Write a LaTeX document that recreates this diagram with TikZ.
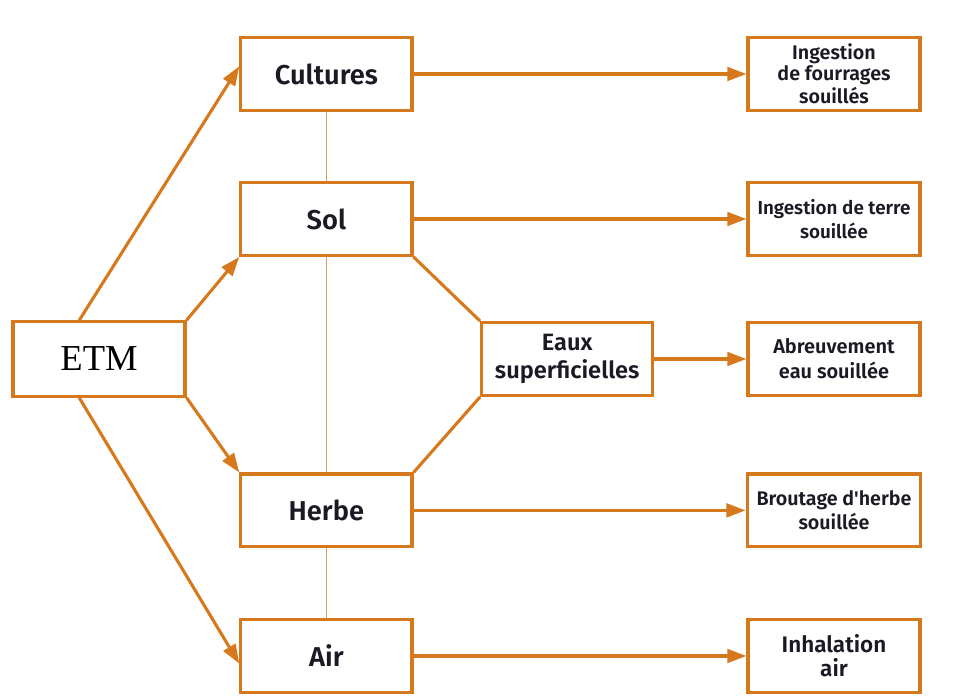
\documentclass[tikz,border=0pt]{standalone}
\usepackage{fontspec}
\setsansfont{Fira Sans}[BoldFont={Fira Sans SemiBold}]
\newfontfamily\etmfont{Liberation Serif}
\usetikzlibrary{arrows.meta}
\definecolor{orangeetm}{RGB}{214, 120, 28}
\definecolor{texteetm}{RGB}{26, 26, 36}

\begin{document}
\begin{tikzpicture}[
    milieu/.style={rectangle, draw=orangeetm, fill=white, line width=1.1pt,
                   minimum width=2.14cm, minimum height=0.91cm, align=center, text=texteetm,
                   font=\sffamily\bfseries\fontsize{9.7}{11}\selectfont},
    exposition/.style={rectangle, draw=orangeetm, fill=white, line width=1.1pt,
                   minimum width=2.15cm, minimum height=0.91cm, align=center, text=texteetm,
                   font=\sffamily\bfseries\fontsize{7}{8.4}\selectfont},
    fleche/.style={-{Triangle[length=2.4mm, width=1.7mm]}, line width=1.1pt, orangeetm},
    lien/.style={line width=1.1pt, orangeetm},
    trait/.style={line width=0.5pt, orangeetm!75}
]
    \useasboundingbox (0,0) rectangle (12.0625,8.75);

    % Source
    \node[milieu, minimum width=2.15cm, minimum height=0.93cm, text=black,
          font=\etmfont\fontsize{13}{15}\selectfont] (etm) at (1.2375,4.2625) {ETM};

    % Milieux contaminés
    \node[milieu] (cultures) at (4.08,7.825) {Cultures};
    \node[milieu] (sol) at (4.08,6.0125) {Sol};
    \node[milieu, font=\sffamily\bfseries\fontsize{8.4}{9.8}\selectfont] (eaux) at (7.09,4.2625) {Eaux\\superficielles};
    \node[milieu] (herbe) at (4.08,2.37) {Herbe};
    \node[milieu] (air) at (4.08,0.55) {Air};

    % Voies d'exposition
    \node[exposition, inner ysep=1pt, font=\sffamily\bfseries\fontsize{7}{7.3}\selectfont] (fourrages) at (10.425,7.825) {Ingestion\\de fourrages\\souillés};
    \node[exposition, font=\sffamily\bfseries\fontsize{6.7}{8.4}\selectfont] (terre) at (10.425,6.0125) {Ingestion de terre\\souillée};
    \node[exposition, font=\sffamily\bfseries\fontsize{7.1}{8.9}\selectfont] (abreuvement) at (10.425,4.2625) {Abreuvement\\eau souillée};
    \node[exposition] (broutage) at (10.425,2.37) {Broutage d\textquotesingle herbe\\souillée};
    \node[exposition, font=\sffamily\bfseries\fontsize{8}{8.6}\selectfont] (inhalation) at (10.425,0.55) {Inhalation\\air};

    % Liaisons verticales
    \draw[trait] (cultures.south) -- (sol.north);
    \draw[trait] (sol.south) -- (herbe.north);
    \draw[trait] (herbe.south) -- (air.north);

    % Flèches depuis ETM
    \draw[fleche] (etm.117) -- (cultures.175);
    \draw[fleche] (etm.north east) -- (sol.south west);
    \draw[fleche] (etm.south east) -- (herbe.north west);
    \draw[fleche] (etm.-117) -- (air.185);

    % Eaux superficielles
    \draw[lien] (sol.south east) -- (eaux.north west);
    \draw[lien] (herbe.north east) -- (eaux.south west);

    % Flèches vers les voies d'exposition
    \draw[fleche] (cultures) -- (fourrages);
    \draw[fleche] (sol) -- (terre);
    \draw[fleche] (eaux) -- (abreuvement);
    \draw[fleche] (herbe) -- (broutage);
    \draw[fleche] (air) -- (inhalation);
\end{tikzpicture}
\end{document}
